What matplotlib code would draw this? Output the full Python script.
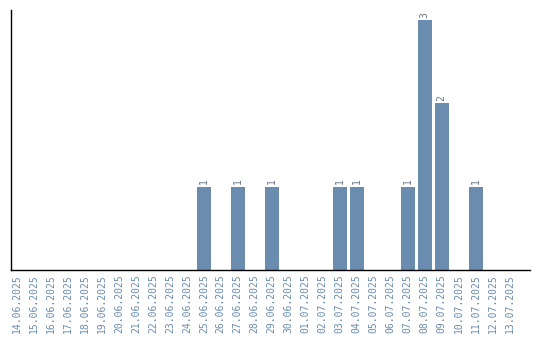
import matplotlib
matplotlib.use("Agg")
import matplotlib.pyplot as plt

dates = ["14.06.2025", "15.06.2025", "16.06.2025", "17.06.2025", "18.06.2025",
         "19.06.2025", "20.06.2025", "21.06.2025", "22.06.2025", "23.06.2025",
         "24.06.2025", "25.06.2025", "26.06.2025", "27.06.2025", "28.06.2025",
         "29.06.2025", "30.06.2025", "01.07.2025", "02.07.2025", "03.07.2025",
         "04.07.2025", "05.07.2025", "06.07.2025", "07.07.2025", "08.07.2025",
         "09.07.2025", "10.07.2025", "11.07.2025", "12.07.2025", "13.07.2025"]
counts = [0, 0, 0, 0, 0, 0, 0, 0, 0, 0,
          0, 1, 0, 1, 0, 1, 0, 0, 0, 1,
          1, 0, 0, 1, 3, 2, 0, 1, 0, 0]

bar_color = "#6a8caf"
text_color = "#6a8caf"

fig = plt.figure(figsize=(5.4, 3.4), dpi=100)
ax = fig.add_axes([11 / 540, 70 / 340, 519 / 540, 260 / 340])

x = list(range(len(dates)))
ax.bar(x, counts, width=0.82, color=bar_color)

# value labels on non-empty days
for i, c in enumerate(counts):
    if c > 0:
        ax.text(i, c + 0.03, str(c), rotation=90, ha="center", va="bottom",
                fontsize=7, color="#66788a", family="DejaVu Sans Mono")

ax.set_xlim(-0.35, 30.2)
ax.set_ylim(0, 3.12)
ax.set_xticks(x)
ax.set_xticklabels(dates, rotation=90, fontsize=7, color=text_color,
                   family="DejaVu Sans Mono")
ax.tick_params(axis="x", length=0, pad=3)
ax.set_yticks([])

for side in ["top", "right"]:
    ax.spines[side].set_visible(False)
for side in ["left", "bottom"]:
    ax.spines[side].set_color("black")
    ax.spines[side].set_linewidth(1)

fig.savefig("out.png", dpi=100)
